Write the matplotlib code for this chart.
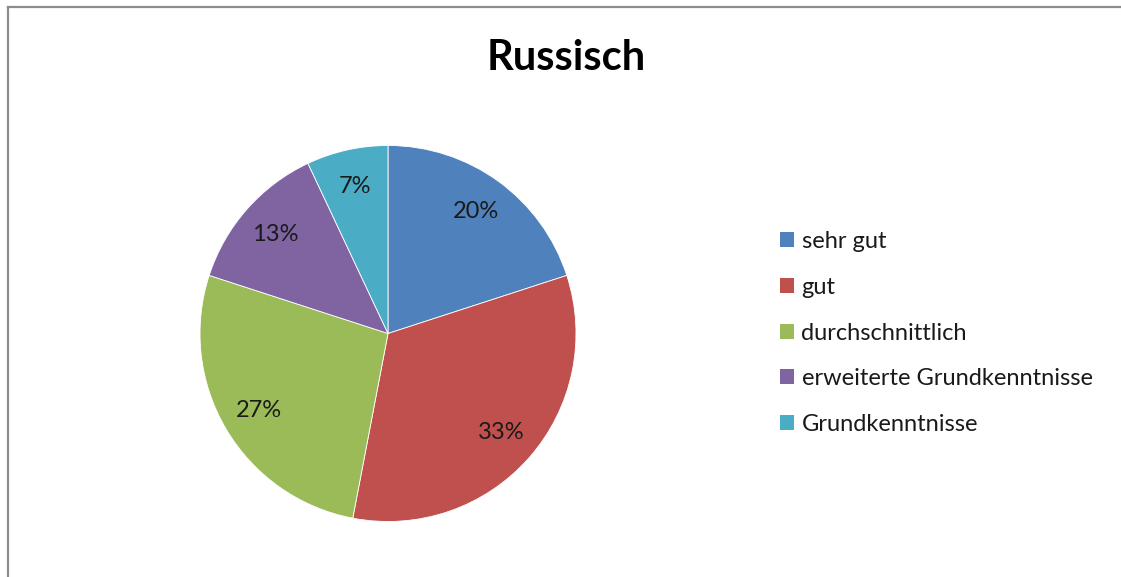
"""Russisch - Sprachkenntnisse als Kreisdiagramm."""

import matplotlib

matplotlib.use("Agg")
import matplotlib.pyplot as plt
from matplotlib.lines import Line2D
from matplotlib.patches import Patch

CATEGORIES = ["sehr gut", "gut", "durchschnittlich", "erweiterte Grundkenntnisse", "Grundkenntnisse"]
SHARES = [20, 33, 27, 13, 7]
COLORS = ["#4F81BD", "#C0504D", "#9BBB59", "#8064A2", "#4BACC6"]

W, H = 1121, 577
plt.rcParams["font.family"] = ["Lato", "DejaVu Sans"]

fig = plt.figure(figsize=(W / 100, H / 100), dpi=100)
fig.patch.set_facecolor("white")

# pie centre and radius in pixels
cx, cy, r = 388, 333.5, 188
ax = fig.add_axes([(cx - r) / W, (H - cy - r) / H, 2 * r / W, 2 * r / H])
wedges, _, autotexts = ax.pie(
    SHARES,
    colors=COLORS,
    startangle=90,
    counterclock=False,
    autopct="%d%%",
    pctdistance=0.8,
    radius=1,
    wedgeprops=dict(edgecolor="white", linewidth=0.6),
    textprops=dict(fontsize=17, color="#1a1a1a"),
)
ax.set_xlim(-1, 1)
ax.set_ylim(-1, 1)
ax.set_axis_off()

fig.text(566 / W, 1 - 58 / H, "Russisch", ha="center", va="center",
         fontsize=30, fontweight="bold", color="black")

handles = [Patch(facecolor=c, edgecolor="none") for c in COLORS]
fig.legend(
    handles,
    CATEGORIES,
    loc="center left",
    bbox_to_anchor=(759 / W, 1 - 333 / H),
    frameon=False,
    fontsize=17,
    handlelength=0.6,
    handleheight=0.6,
    handletextpad=0.3,
    labelspacing=1.05,
    labelcolor="#1a1a1a",
)

# chart frame: only top and left edges visible
frame_color = "#8c8c8c"
fig.add_artist(Line2D([7.5 / W, 1], [1 - 6.5 / H, 1 - 6.5 / H], color=frame_color, linewidth=1.6,
                      transform=fig.transFigure))
fig.add_artist(Line2D([7.5 / W, 7.5 / W], [0, 1 - 6.5 / H], color=frame_color, linewidth=1.6,
                      transform=fig.transFigure))

fig.savefig("out.png", dpi=100)
